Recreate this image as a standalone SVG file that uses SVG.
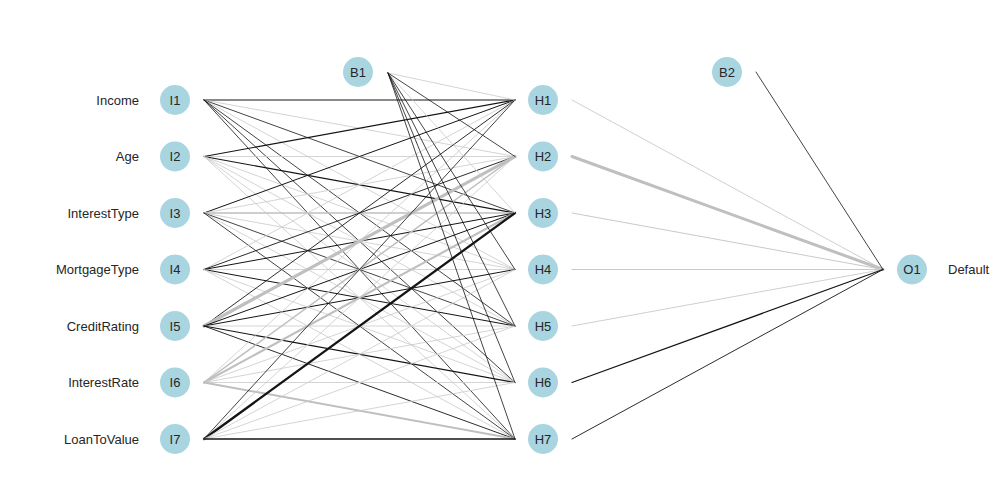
<svg xmlns="http://www.w3.org/2000/svg" width="999" height="493" viewBox="0 0 999 493">
<style>
text{font-family:"Liberation Sans",Arial,sans-serif;font-size:13px;fill:#262626}
.lab{text-anchor:end}
.nt{text-anchor:middle}
circle{fill:#a9d5e1}
line{stroke-linecap:round}
.b{stroke:#141414}
.g{stroke:#c9c9c9}
.m{stroke:#bfbfbf}
</style>
<rect width="999" height="493" fill="#fff"/>
<g id="connectors" fill="none">
<line class="b" x1="204" y1="100" x2="515" y2="100" stroke-width="1.2"/>
<line class="g" x1="204" y1="100" x2="515" y2="156.5" stroke-width="0.8"/>
<line class="b" x1="204" y1="100" x2="515" y2="213" stroke-width="0.8"/>
<line class="g" x1="204" y1="100" x2="515" y2="269.5" stroke-width="0.8"/>
<line class="b" x1="204" y1="100" x2="515" y2="326" stroke-width="0.8"/>
<line class="b" x1="204" y1="100" x2="515" y2="382.5" stroke-width="0.8"/>
<line class="b" x1="204" y1="100" x2="515" y2="439" stroke-width="0.8"/>
<line class="b" x1="204" y1="156.5" x2="515" y2="100" stroke-width="1.1"/>
<line class="g" x1="204" y1="156.5" x2="515" y2="156.5" stroke-width="0.8"/>
<line class="b" x1="204" y1="156.5" x2="515" y2="213" stroke-width="1.1"/>
<line class="g" x1="204" y1="156.5" x2="515" y2="269.5" stroke-width="0.8"/>
<line class="g" x1="204" y1="156.5" x2="515" y2="326" stroke-width="0.8"/>
<line class="g" x1="204" y1="156.5" x2="515" y2="382.5" stroke-width="0.8"/>
<line class="g" x1="204" y1="156.5" x2="515" y2="439" stroke-width="0.8"/>
<line class="b" x1="204" y1="213" x2="515" y2="100" stroke-width="1"/>
<line class="g" x1="204" y1="213" x2="515" y2="156.5" stroke-width="0.8"/>
<line class="m" x1="204" y1="213" x2="515" y2="213" stroke-width="1.6"/>
<line class="g" x1="204" y1="213" x2="515" y2="269.5" stroke-width="0.8"/>
<line class="b" x1="204" y1="213" x2="515" y2="326" stroke-width="0.8"/>
<line class="g" x1="204" y1="213" x2="515" y2="382.5" stroke-width="0.8"/>
<line class="b" x1="204" y1="213" x2="515" y2="439" stroke-width="0.8"/>
<line class="g" x1="204" y1="269.5" x2="515" y2="100" stroke-width="0.8"/>
<line class="b" x1="204" y1="269.5" x2="515" y2="156.5" stroke-width="0.9"/>
<line class="b" x1="204" y1="269.5" x2="515" y2="213" stroke-width="1"/>
<line class="g" x1="204" y1="269.5" x2="515" y2="269.5" stroke-width="0.8"/>
<line class="b" x1="204" y1="269.5" x2="515" y2="326" stroke-width="1"/>
<line class="g" x1="204" y1="269.5" x2="515" y2="382.5" stroke-width="0.8"/>
<line class="g" x1="204" y1="269.5" x2="515" y2="439" stroke-width="0.8"/>
<line class="b" x1="204" y1="326" x2="515" y2="100" stroke-width="0.9"/>
<line class="m" x1="204" y1="326" x2="515" y2="156.5" stroke-width="3.2"/>
<line class="b" x1="204" y1="326" x2="515" y2="213" stroke-width="1"/>
<line class="b" x1="204" y1="326" x2="515" y2="269.5" stroke-width="1"/>
<line class="g" x1="204" y1="326" x2="515" y2="326" stroke-width="0.8"/>
<line class="b" x1="204" y1="326" x2="515" y2="382.5" stroke-width="1.1"/>
<line class="b" x1="204" y1="326" x2="515" y2="439" stroke-width="0.9"/>
<line class="g" x1="204" y1="382.5" x2="515" y2="100" stroke-width="0.8"/>
<line class="m" x1="204" y1="382.5" x2="515" y2="156.5" stroke-width="1.5"/>
<line class="m" x1="204" y1="382.5" x2="515" y2="213" stroke-width="2.1"/>
<line class="g" x1="204" y1="382.5" x2="515" y2="269.5" stroke-width="0.8"/>
<line class="g" x1="204" y1="382.5" x2="515" y2="326" stroke-width="0.8"/>
<line class="g" x1="204" y1="382.5" x2="515" y2="382.5" stroke-width="0.8"/>
<line class="m" x1="204" y1="382.5" x2="515" y2="439" stroke-width="2"/>
<line class="b" x1="204" y1="439" x2="515" y2="100" stroke-width="0.8"/>
<line class="g" x1="204" y1="439" x2="515" y2="156.5" stroke-width="0.8"/>
<line class="b" x1="204" y1="439" x2="515" y2="213" stroke-width="2.3"/>
<line class="g" x1="204" y1="439" x2="515" y2="269.5" stroke-width="0.8"/>
<line class="g" x1="204" y1="439" x2="515" y2="326" stroke-width="0.8"/>
<line class="g" x1="204" y1="439" x2="515" y2="382.5" stroke-width="0.8"/>
<line class="b" x1="204" y1="439" x2="515" y2="439" stroke-width="1.3"/>
<line class="g" x1="388" y1="73" x2="515" y2="100" stroke-width="0.8"/>
<line class="b" x1="388" y1="73" x2="515" y2="156.5" stroke-width="0.8"/>
<line class="g" x1="388" y1="73" x2="515" y2="213" stroke-width="0.8"/>
<line class="b" x1="388" y1="73" x2="515" y2="269.5" stroke-width="0.8"/>
<line class="b" x1="388" y1="73" x2="515" y2="326" stroke-width="0.8"/>
<line class="b" x1="388" y1="73" x2="515" y2="382.5" stroke-width="0.8"/>
<line class="b" x1="388" y1="73" x2="515" y2="439" stroke-width="0.8"/>
<line class="g" x1="572" y1="100" x2="883" y2="269.5" stroke-width="0.9"/>
<line class="m" x1="572" y1="156.5" x2="883" y2="269.5" stroke-width="3"/>
<line class="g" x1="572" y1="213" x2="883" y2="269.5" stroke-width="1"/>
<line class="g" x1="572" y1="269.5" x2="883" y2="269.5" stroke-width="1"/>
<line class="g" x1="572" y1="326" x2="883" y2="269.5" stroke-width="0.9"/>
<line class="b" x1="572" y1="382.5" x2="883" y2="269.5" stroke-width="1.2"/>
<line class="b" x1="572" y1="439" x2="883" y2="269.5" stroke-width="0.9"/>
<line class="b" x1="756" y1="72" x2="883" y2="269.5" stroke-width="0.8"/>
</g>
<g id="I1"><text class="lab" x="139" y="104.5">Income</text><circle cx="175" cy="100" r="15"/><text class="nt" x="175" y="104.5">I1</text></g>
<g id="I2"><text class="lab" x="139" y="161">Age</text><circle cx="175" cy="156.5" r="15"/><text class="nt" x="175" y="161">I2</text></g>
<g id="I3"><text class="lab" x="139" y="217.5">InterestType</text><circle cx="175" cy="213" r="15"/><text class="nt" x="175" y="217.5">I3</text></g>
<g id="I4"><text class="lab" x="139" y="274">MortgageType</text><circle cx="175" cy="269.5" r="15"/><text class="nt" x="175" y="274">I4</text></g>
<g id="I5"><text class="lab" x="139" y="330.5">CreditRating</text><circle cx="175" cy="326" r="15"/><text class="nt" x="175" y="330.5">I5</text></g>
<g id="I6"><text class="lab" x="139" y="387">InterestRate</text><circle cx="175" cy="382.5" r="15"/><text class="nt" x="175" y="387">I6</text></g>
<g id="I7"><text class="lab" x="139" y="443.5">LoanToValue</text><circle cx="175" cy="439" r="15"/><text class="nt" x="175" y="443.5">I7</text></g>
<g id="B1"><circle cx="358" cy="72" r="15"/><text class="nt" x="358" y="76.5">B1</text></g>
<g id="H1"><circle cx="543" cy="100" r="15"/><text class="nt" x="543" y="104.5">H1</text></g>
<g id="H2"><circle cx="543" cy="156.5" r="15"/><text class="nt" x="543" y="161">H2</text></g>
<g id="H3"><circle cx="543" cy="213" r="15"/><text class="nt" x="543" y="217.5">H3</text></g>
<g id="H4"><circle cx="543" cy="269.5" r="15"/><text class="nt" x="543" y="274">H4</text></g>
<g id="H5"><circle cx="543" cy="326" r="15"/><text class="nt" x="543" y="330.5">H5</text></g>
<g id="H6"><circle cx="543" cy="382.5" r="15"/><text class="nt" x="543" y="387">H6</text></g>
<g id="H7"><circle cx="543" cy="439" r="15"/><text class="nt" x="543" y="443.5">H7</text></g>
<g id="B2"><circle cx="727" cy="72" r="15"/><text class="nt" x="727" y="76.5">B2</text></g>
<g id="O1"><circle cx="912" cy="269.5" r="15"/><text class="nt" x="912" y="274">O1</text><text x="948" y="274">Default</text></g>
</svg>
